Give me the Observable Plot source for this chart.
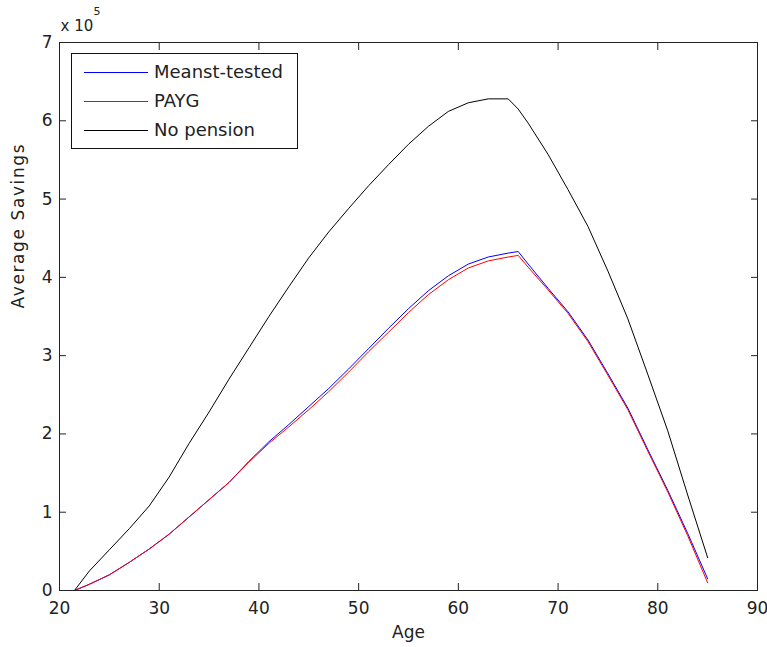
<!DOCTYPE html>
<html><head><meta charset="utf-8">
<script src="https://cdn.jsdelivr.net/npm/d3@7"></script>
<script src="https://cdn.jsdelivr.net/npm/@observablehq/plot@0.6"></script>
<style>
body{margin:0;background:#fff;}
#wrap{position:relative;width:767px;height:647px;font-family:"DejaVu Sans",sans-serif;}
#legend{position:absolute;left:71px;top:53px;width:227px;height:96px;box-sizing:border-box;border:1px solid #111;background:#fff;}
.row{position:absolute;left:0;width:100%;height:20px;}
.sw{position:absolute;left:12px;top:10px;width:64px;height:0;border-top:1px solid;}
.lab{position:absolute;left:82px;top:0;line-height:20px;font-size:18px;color:#222;white-space:nowrap;}
</style></head><body><div id="wrap"></div>
<script>
// Age grid (years)
const ages = [21.5, 23, 25, 27, 29, 31, 33, 35, 37, 39, 41, 43, 45, 47, 49, 51, 53, 55, 57, 59, 61, 63, 65, 66, 67, 69, 71, 73, 75, 77, 79, 81, 83, 85];
// Average savings, in units of 10^5
const meansTested = [0, 0.08, 0.2, 0.36, 0.53, 0.72, 0.94, 1.16, 1.38, 1.65, 1.9, 2.12, 2.35, 2.58, 2.83, 3.09, 3.35, 3.6, 3.83, 4.02, 4.17, 4.26, 4.31, 4.33, 4.17, 3.86, 3.56, 3.2, 2.77, 2.33, 1.8, 1.28, 0.73, 0.15];
const payg = [0, 0.08, 0.2, 0.36, 0.53, 0.72, 0.94, 1.16, 1.38, 1.64, 1.88, 2.09, 2.31, 2.54, 2.79, 3.05, 3.3, 3.55, 3.78, 3.97, 4.12, 4.21, 4.26, 4.28, 4.13, 3.84, 3.54, 3.18, 2.75, 2.31, 1.78, 1.26, 0.7, 0.1];
const noPension = [0, 0.25, 0.52, 0.79, 1.08, 1.45, 1.88, 2.28, 2.7, 3.1, 3.5, 3.88, 4.25, 4.58, 4.88, 5.17, 5.44, 5.7, 5.93, 6.12, 6.23, 6.28, 6.28, 6.15, 5.97, 5.57, 5.12, 4.65, 4.08, 3.47, 2.76, 2.04, 1.22, 0.42];

const seriesNames = ["Meanst-tested", "PAYG", "No pension"];
const seriesColors = ["#0000ff", "#ff0000", "#000000"];
const xTicks = [20, 30, 40, 50, 60, 70, 80, 90];
const yTicks = [0, 1, 2, 3, 4, 5, 6, 7];
const xLabel = "Age";
const yLabel = "Average Savings";

const rows = [];
[meansTested, payg, noPension].forEach((vals, i) =>
  vals.forEach((v, j) => rows.push({age: ages[j], savings: v, series: seriesNames[i]})));

const chart = Plot.plot({
  width: 767, height: 647,
  marginLeft: 59, marginRight: 10, marginTop: 42, marginBottom: 57,
  style: {fontFamily: "DejaVu Sans", fontSize: "17px", color: "#222", background: "#fff"},
  x: {domain: [20, 90]},
  y: {domain: [0, 7]},
  color: {domain: seriesNames, range: seriesColors},
  marks: [
    Plot.line(rows, {x: "age", y: "savings", z: "series", stroke: "series", strokeWidth: 1}),
    Plot.frame({stroke: "#222"}),
    Plot.axisX(xTicks, {anchor: "bottom", tickSize: -7, tickPadding: 18, tickFormat: d3.format("d"), label: null}),
    Plot.axisX(xTicks, {anchor: "top", tickSize: -7, tickFormat: () => "", label: null}),
    Plot.axisY(yTicks, {anchor: "left", tickSize: -7, tickPadding: 14, tickFormat: d3.format("d"), label: null}),
    Plot.axisY(yTicks, {anchor: "right", tickSize: -7, tickFormat: () => "", label: null}),
    Plot.text([xLabel], {frameAnchor: "bottom", dy: 42, lineAnchor: "middle", fontSize: 17, fill: "#222"}),
    Plot.text([yLabel], {frameAnchor: "left", dx: -41, dy: -8, rotate: -90, lineAnchor: "middle", fontSize: 17, fill: "#222"}),
    Plot.text(["x 10"], {frameAnchor: "top-left", dx: 1, dy: -16, textAnchor: "start", lineAnchor: "middle", fontSize: 15, fill: "#222"}),
    Plot.text(["5"], {frameAnchor: "top-left", dx: 34, dy: -31, textAnchor: "start", lineAnchor: "middle", fontSize: 11, fill: "#222"})
  ]
});

d3.select(chart).selectAll("text")
  .filter(function () { return this.textContent === yLabel; })
  .style("letter-spacing", "1.6px");

const wrap = document.getElementById("wrap");
wrap.appendChild(chart);

const legend = document.createElement("div");
legend.id = "legend";
const centers = [18, 47, 76];
seriesNames.forEach((name, i) => {
  const row = document.createElement("div");
  row.className = "row";
  row.style.top = (centers[i] - 10) + "px";
  const sw = document.createElement("div");
  sw.className = "sw";
  sw.style.borderTopColor = seriesColors[i];
  const lab = document.createElement("div");
  lab.className = "lab";
  lab.textContent = name;
  row.appendChild(sw);
  row.appendChild(lab);
  legend.appendChild(row);
});
wrap.appendChild(legend);
</script>
</body></html>
